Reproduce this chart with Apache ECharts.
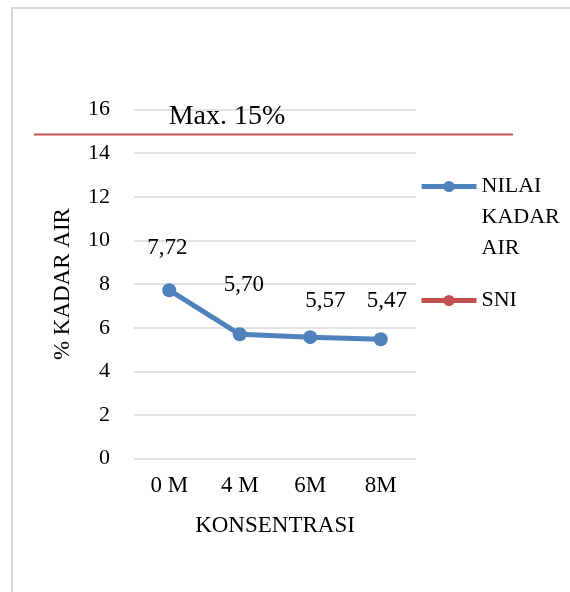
<!DOCTYPE html>
<html>
<head>
<meta charset="utf-8">
<script src="https://cdn.jsdelivr.net/npm/echarts@6/dist/echarts.min.js"></script>
<style>
  html, body { margin: 0; padding: 0; background: #fff; }
  #chart { width: 570px; height: 592px; }
</style>
</head>
<body>
<div id="chart"></div>
<script>
// Moisture content (% kadar air) per concentration, with the SNI maximum
const categories = ['0 M', '4 M', '6M', '8M'];
const kadarAir = [7.72, 5.70, 5.57, 5.47];
const sniMax = 15;
const yTicks = { min: 0, max: 16, interval: 2 };

// label nudges (px) for each value label above the line
const labelOffsets = [[-2, -24], [4, -31], [15, -18], [6, -20]];

const FONT = 'Liberation Serif';
const BLUE = '#4F81BD';
const RED = '#C0504D';
const fmt = v => v.toFixed(2).replace('.', ',');

const chart = echarts.init(document.getElementById('chart'), null, { renderer: 'canvas' });

chart.setOption({
  backgroundColor: '#fff',
  animation: false,
  textStyle: { fontFamily: FONT, color: '#000' },
  graphic: [{
    type: 'rect',
    shape: { x: 12, y: 8, width: 700, height: 700 },
    style: { fill: 'none', stroke: '#d9d9d9', lineWidth: 2 },
    silent: true,
    z: -1
  }],
  grid: [
    { left: 134, right: 154, top: 109.5, bottom: 133.3 },
    { left: 34, right: 57, top: 113, bottom: 133.3 }
  ],
  xAxis: [{
    type: 'category',
    gridIndex: 0,
    data: categories,
    boundaryGap: true,
    axisLine: { show: false },
    axisTick: { show: false },
    axisLabel: { margin: 16, fontSize: 23, fontFamily: FONT, color: '#000' },
    name: 'KONSENTRASI',
    nameLocation: 'middle',
    nameGap: 56,
    nameTextStyle: { fontSize: 23, fontFamily: FONT, color: '#000' }
  }, {
    type: 'value',
    gridIndex: 1,
    min: 0,
    max: 1,
    show: false
  }],
  yAxis: [{
    type: 'value',
    gridIndex: 0,
    min: yTicks.min,
    max: yTicks.max,
    interval: yTicks.interval,
    axisLine: { show: false },
    axisTick: { show: false },
    axisLabel: { margin: 24, fontSize: 22, fontFamily: FONT, color: '#000' },
    splitLine: { lineStyle: { color: '#d9d9d9', width: 1.5 } },
    name: '% KADAR AIR',
    nameLocation: 'middle',
    nameGap: 60,
    nameTextStyle: { fontSize: 23, fontFamily: FONT, color: '#000' }
  }, {
    type: 'value',
    gridIndex: 1,
    min: yTicks.min,
    max: yTicks.max,
    show: false
  }],
  legend: [{
    data: ['NILAI KADAR AIR'],
    left: 419,
    top: 109,
    padding: 0,
    itemWidth: 55,
    itemHeight: 14,
    itemGap: 0,
    lineStyle: { width: 5 },
    // two leading blank lines keep the marker level with the first word
    formatter: () => '\n\nNILAI\nKADAR\nAIR',
    textStyle: { fontSize: 22, fontFamily: FONT, color: '#000', lineHeight: 31 }
  }, {
    data: ['SNI'],
    left: 419,
    top: 285,
    padding: 0,
    itemWidth: 55,
    itemHeight: 14,
    lineStyle: { width: 5 },
    textStyle: { fontSize: 22, fontFamily: FONT, color: '#000', lineHeight: 31 }
  }],
  series: [{
    name: 'NILAI KADAR AIR',
    type: 'line',
    xAxisIndex: 0,
    yAxisIndex: 0,
    data: kadarAir.map((v, i) => ({
      value: v,
      label: { offset: labelOffsets[i] }
    })),
    symbol: 'circle',
    symbolSize: 14,
    lineStyle: { color: BLUE, width: 5 },
    itemStyle: { color: BLUE },
    label: {
      show: true,
      position: 'top',
      distance: 0,
      fontSize: 23,
      fontFamily: FONT,
      color: '#000',
      formatter: p => fmt(p.value)
    },
    z: 3
  }, {
    name: 'SNI',
    type: 'line',
    xAxisIndex: 1,
    yAxisIndex: 1,
    data: [
      { value: [0, sniMax], label: { show: true } },
      { value: [1, sniMax] }
    ],
    symbol: 'circle',
    symbolSize: 0.1,
    showSymbol: true,
    lineStyle: { color: RED, width: 2 },
    itemStyle: { color: RED },
    label: {
      show: false,
      position: 'inside',
      offset: [193, -18],
      fontSize: 28,
      fontFamily: FONT,
      color: '#000',
      formatter: p => 'Max. ' + p.value[1] + '%'
    },
    z: 2
  }]
});
</script>
</body>
</html>
